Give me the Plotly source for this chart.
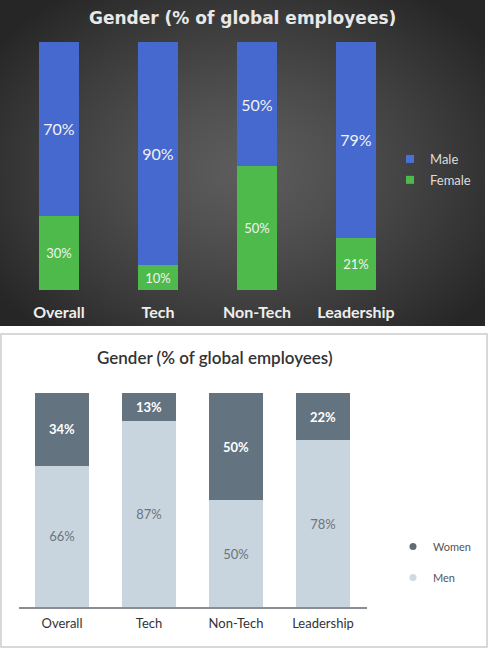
import base64, struct, zlib
import numpy as np
import plotly.graph_objects as go

W, H = 490, 650

# ---------------- data ----------------
top_categories = ["Overall", "Tech", "Non-Tech", "Leadership"]
top_male = [70, 90, 50, 79]
top_female = [30, 10, 50, 21]

bot_categories = ["Overall", "Tech", "Non-Tech", "Leadership"]
bot_women = [34, 13, 50, 22]
bot_men = [66, 87, 50, 78]

def px(x):
    return x / W

def py(y):
    return 1 - y / H

# ------------- background gradient image (styling only) -------------
def radial_png(w, h):
    yy, xx = np.mgrid[0:h, 0:w]
    d = np.sqrt(((xx - w * 0.5) / (w * 0.62)) ** 2 + ((yy - h * 0.52) / (h * 0.68)) ** 2)
    d = np.clip(d, 0, 1)
    v = (92 - 54 * d ** 1.3).astype(np.uint8)
    raw = b"".join(b"\x00" + v[r].tobytes() for r in range(h))
    def chunk(t, data):
        return struct.pack(">I", len(data)) + t + data + struct.pack(">I", zlib.crc32(t + data) & 0xffffffff)
    png = (b"\x89PNG\r\n\x1a\n" + chunk(b"IHDR", struct.pack(">IIBBBBB", w, h, 8, 0, 0, 0, 0))
           + chunk(b"IDAT", zlib.compress(raw, 9)) + chunk(b"IEND", b""))
    return "data:image/png;base64," + base64.b64encode(png).decode()

fig = go.Figure()

# ---------------- top chart ----------------
fig.add_trace(go.Bar(
    x=top_categories, y=top_female, name="Female", marker=dict(color="#4dba4b", line=dict(width=0)),
    texttemplate="%{y}%", textposition="inside", insidetextanchor="middle", textangle=0,
    textfont=dict(family="Lato", size=13, color="#f2f2f2"),
    xaxis="x", yaxis="y", showlegend=False, hoverinfo="skip"))
fig.add_trace(go.Bar(
    x=top_categories, y=top_male, name="Male", marker=dict(color="#4569cf", line=dict(width=0)),
    texttemplate="%{y}%", textposition="inside", insidetextanchor="middle", textangle=0,
    textfont=dict(family="Lato", size=16, color="#f2f2f2"),
    xaxis="x", yaxis="y", showlegend=False, hoverinfo="skip"))

# legend entries (top)
for nm, col, grp in [("Male", "#4a6fd6", "m"), ("Female", "#4dba4b", "f")]:
    fig.add_trace(go.Scatter(x=[None], y=[None], mode="markers", name=nm,
                             marker=dict(symbol="square", size=8, color=col),
                             legend="legend", legendgroup=grp, xaxis="x", yaxis="y"))

# ---------------- bottom chart ----------------
fig.add_trace(go.Bar(
    x=bot_categories, y=bot_men, name="Men", marker=dict(color="#c9d5de", line=dict(width=0)),
    texttemplate="%{y}%", textposition="inside", insidetextanchor="middle", textangle=0,
    textfont=dict(family="Lato", size=13, color="#6b747c"),
    xaxis="x2", yaxis="y2", showlegend=False, hoverinfo="skip"))
fig.add_trace(go.Bar(
    x=bot_categories, y=bot_women, name="Women", marker=dict(color="#647380", line=dict(width=0)),
    texttemplate="<b>%{y}%</b>", textposition="inside", insidetextanchor="middle", textangle=0,
    textfont=dict(family="Lato", size=13, color="#ffffff"),
    xaxis="x2", yaxis="y2", showlegend=False, hoverinfo="skip"))

for nm, col, grp in [("Women", "#5f6b75", "w"), ("Men", "#d0dae2", "n")]:
    fig.add_trace(go.Scatter(x=[None], y=[None], mode="markers", name=nm,
                             marker=dict(symbol="circle", size=7, color=col),
                             legend="legend2", legendgroup=grp, xaxis="x2", yaxis="y2"))

fig.update_layout(
    width=W, height=H, margin=dict(l=0, r=0, t=0, b=0),
    paper_bgcolor="#ffffff", plot_bgcolor="rgba(0,0,0,0)",
    barmode="stack",
    xaxis=dict(domain=[px(9.5), px(405.5)], range=[-0.5, 3.5], anchor="y", showgrid=False,
               zeroline=False, showline=False, ticks="", ticklabelstandoff=11,
               tickfont=dict(family="Lato", size=16, color="#eeeeee", weight="bold"),
               fixedrange=True),
    yaxis=dict(domain=[py(290), py(42)], range=[0, 100], anchor="x", visible=False, fixedrange=True),
    xaxis2=dict(domain=[px(18.5), px(366.5)], range=[-0.5, 3.5], anchor="y2", showgrid=False,
                zeroline=False, showline=True, linecolor="#8a8e92", linewidth=1.5, ticks="",
                ticklabelstandoff=4, tickfont=dict(family="Lato", size=13, color="#333333"),
                fixedrange=True),
    yaxis2=dict(domain=[py(607), py(393)], range=[0, 100], anchor="x2", visible=False, fixedrange=True),
    legend=dict(x=px(390), y=py(144), xanchor="left", yanchor="top", bgcolor="rgba(0,0,0,0)",
                font=dict(family="Lato", size=13, color="#dddddd"), traceorder="grouped",
                tracegroupgap=1, itemwidth=30),
    legend2=dict(x=px(393), y=py(532), xanchor="left", yanchor="top", bgcolor="rgba(0,0,0,0)",
                 font=dict(family="Lato", size=11, color="#555555"), traceorder="grouped",
                 tracegroupgap=12, itemwidth=30),
    images=[dict(source=radial_png(485, 326), xref="paper", yref="paper", x=0, y=1,
                 sizex=px(485), sizey=326 / H, sizing="stretch", layer="below",
                 xanchor="left", yanchor="top")],
    shapes=[
        dict(type="rect", xref="paper", yref="paper", x0=px(1), x1=px(487), y0=py(647), y1=py(334),
             line=dict(color="#cccccc", width=1.5), fillcolor="rgba(0,0,0,0)", layer="below"),
    ],
    annotations=[
        dict(text="<b>Gender (% of global employees)</b>", x=px(242), y=py(18), xref="paper", yref="paper",
             xanchor="center", yanchor="middle", showarrow=False,
             font=dict(family="DejaVu Sans", size=17, color="#e8e8e8")),
        dict(text="Gender (% of global employees)", x=px(215), y=py(357), xref="paper", yref="paper",
             xanchor="center", yanchor="middle", showarrow=False,
             font=dict(family="Lato", size=17, color="#333333", weight=600)),
    ],
)
fig.update_traces(width=0.63, selector=dict(type="bar", xaxis="x2"))
fig.update_traces(width=40 / 99, selector=dict(type="bar", xaxis="x"))
fig.update_traces(cliponaxis=False, selector=dict(type="bar"))

fig.write_html("out.html")
